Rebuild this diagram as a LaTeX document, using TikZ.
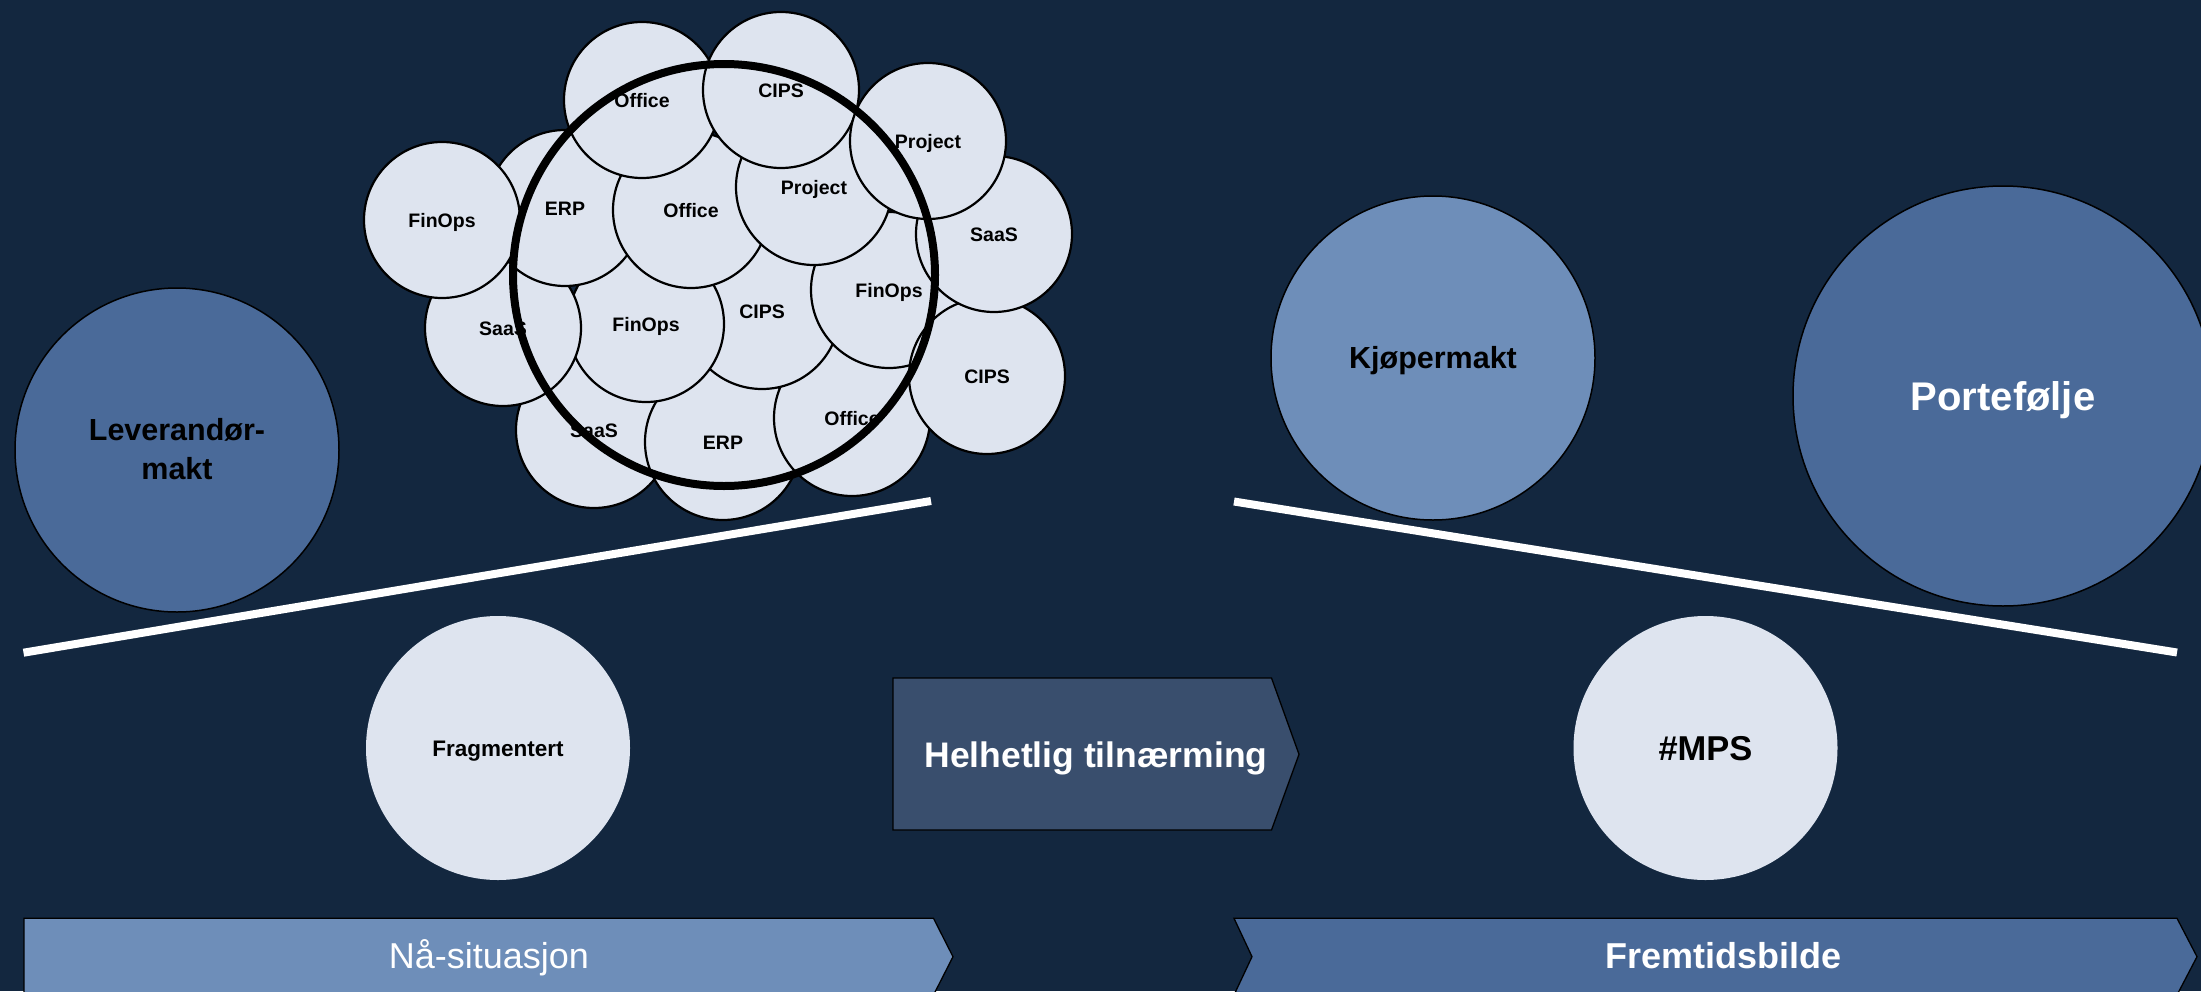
\documentclass[tikz,border=0pt]{standalone}
\usepackage{fontspec}
\setmainfont{Liberation Sans}
\definecolor{bgc}{HTML}{13273F}
\definecolor{lightc}{HTML}{DEE4EF}
\definecolor{midc}{HTML}{4A6A99}
\definecolor{softc}{HTML}{6E8EB9}
\definecolor{boxc}{HTML}{394E6D}
\begin{document}
\begin{tikzpicture}[x=1pt,y=-1pt,
  smallc/.style={circle, draw=black, line width=2.2pt, fill=lightc, minimum size=156pt, inner sep=0pt,
    text height=14pt, text depth=0pt, font=\fontsize{19.5}{23}\selectfont\bfseries},
  bigc/.style={circle, draw=black, line width=1.5pt, inner sep=0pt},
  plainc/.style={circle, fill=lightc, inner sep=0pt, minimum size=264pt},
  ring/.style={circle, draw=black, line width=8pt, minimum size=422pt, inner sep=0pt},
  beam/.style={draw=white, line width=8pt},
  chev/.style={draw=black, line width=1.3pt}]
\fill[bgc] (0,0) rectangle (2201,991);
\useasboundingbox (0,0) rectangle (2201,991);

% cluster of small circles (back to front)
\node[smallc] (saasb)  at (594,430) {SaaS};
\node[smallc] (erpb)   at (723,442) {ERP};
\node[smallc] (offb)   at (852,418) {Office};
\node[smallc] (cipsc)  at (762,311) {CIPS};
\node[smallc] (finocl) at (646,324) {FinOps};
\node[smallc] (finor)  at (889,290) {FinOps};
\node[smallc] (cipsr)  at (987,376) {CIPS};
\node[smallc] (saasr)  at (994,234) {SaaS};
\node[smallc] (saasl)  at (503,328) {SaaS};
\node[smallc] (erpm)   at (565,208) {ERP};
\node[smallc] (finol)  at (442,220) {FinOps};
\node[smallc] (offm)   at (691,210) {Office};
\node[smallc] (projm)  at (814,187) {Project};
\node[smallc] (offt)   at (642,100) {Office};
\node[smallc] (cipst)  at (781,90)  {CIPS};
\node[smallc] (projt)  at (928,141) {Project};
\node[ring] (bigring) at (724,275) {};

% left side
\node[bigc, fill=midc, minimum size=324pt] (lev) at (177,450) {};
\node[anchor=base, font=\fontsize{30.5}{36}\selectfont\bfseries] (levA) at (177,440.7) {Leverandør-};
\node[anchor=base, font=\fontsize{30.5}{36}\selectfont\bfseries] (levB) at (177,479.3) {makt};
\coordinate (la) at (23.5,652.7);
\coordinate (lb) at (931,501);
\draw[beam] (la) -- (lb);
\node[plainc, text height=16.1pt, text depth=0pt, font=\fontsize{22.5}{26}\selectfont\bfseries] (frag) at (498,748) {Fragmentert};

% middle arrow box
\draw[chev, fill=boxc] (893,678) -- (1271.5,678) -- (1299,754.3) -- (1271.5,830) -- (893,830) -- cycle;
\node[anchor=base, text=white, font=\fontsize{35.5}{40}\selectfont\bfseries] (helh) at (1096,767.3) {Helhetlig tilnærming};

% right side
\node[bigc, fill=softc, minimum size=324pt, text height=21.8pt, text depth=0pt,
  font=\fontsize{30.5}{36}\selectfont\bfseries] (kjop) at (1433,358) {Kjøpermakt};
\node[bigc, fill=midc, minimum size=420pt, text height=28.6pt, text depth=0pt, text=white,
  font=\fontsize{40}{46}\selectfont\bfseries] (port) at (2003,396) {Portefølje};
\coordinate (ra) at (1234,501.5);
\coordinate (rb) at (2177,652.5);
\draw[beam] (ra) -- (rb);
\node[plainc, text height=24.7pt, text depth=0pt, font=\fontsize{34.5}{40}\selectfont\bfseries] (mps) at (1705.5,748) {\#MPS};

% bottom chevrons
\draw[chev, fill=softc] (24,918.3) -- (933.5,918.3) -- (953,956.7) -- (933.5,995) -- (24,995) -- cycle;
\node[anchor=base, text=white, font=\fontsize{36}{42}\selectfont] (naa) at (489,968.3) {Nå-situasjon};
\draw[chev, fill=midc] (1234,918.3) -- (2177,918.3) -- (2197,956.7) -- (2177,995) -- (1234,995) -- (1252,956.7) -- cycle;
\node[anchor=base, text=white, font=\fontsize{36}{42}\selectfont\bfseries] (frem) at (1723.7,968.3) {Fremtidsbilde};
\end{tikzpicture}
\end{document}
